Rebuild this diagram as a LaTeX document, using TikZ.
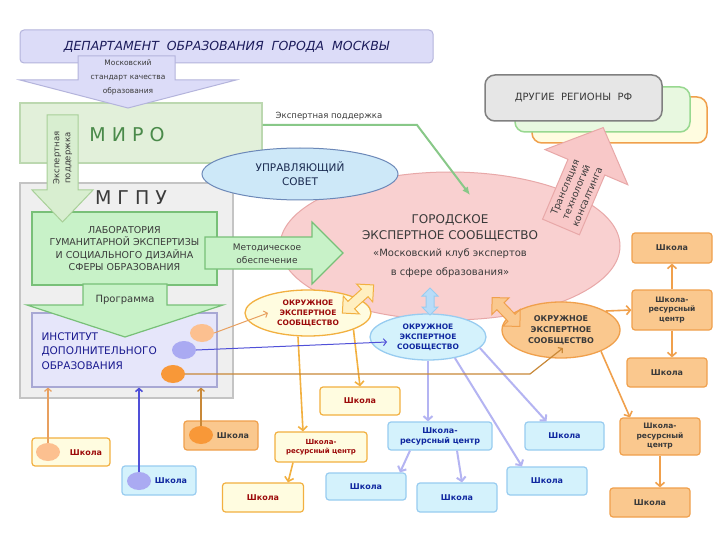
\documentclass[tikz,border=0pt]{standalone}
\usepackage{fontspec}
\setmainfont{DejaVu Sans}
\usetikzlibrary{positioning,shapes.geometric,arrows.meta}

\definecolor{banfill}{HTML}{DCDCF8}
\definecolor{bandraw}{HTML}{B4B4DC}
\definecolor{navytxt}{HTML}{1C1C5C}
\definecolor{mirofill}{HTML}{E2F0DA}
\definecolor{mirodraw}{HTML}{BCD8B0}
\definecolor{mirotxt}{HTML}{4A8A4A}
\definecolor{vertfill}{HTML}{D8EED0}
\definecolor{vertdraw}{HTML}{A8D098}
\definecolor{mgpufill}{HTML}{EFEFEF}
\definecolor{mgpudraw}{HTML}{C4C4C4}
\definecolor{labfill}{HTML}{C8F2C8}
\definecolor{labdraw}{HTML}{78C078}
\definecolor{instfill}{HTML}{E6E6FA}
\definecolor{instdraw}{HTML}{A8A8D4}
\definecolor{insttxt}{HTML}{1A1A90}
\definecolor{pinkfill}{HTML}{F9D0D0}
\definecolor{pinkdraw}{HTML}{E8A8A8}
\definecolor{transfill}{HTML}{F8C8C8}
\definecolor{sovfill}{HTML}{CDE8F8}
\definecolor{sovdraw}{HTML}{6C88B8}
\definecolor{sovtxt}{HTML}{1A2A50}
\definecolor{yelfill}{HTML}{FFFCE0}
\definecolor{yeldraw}{HTML}{F2B040}
\definecolor{yelarr}{HTML}{FFEFC0}
\definecolor{blufill}{HTML}{D4F2FC}
\definecolor{bludraw}{HTML}{98CCF0}
\definecolor{bluarr}{HTML}{B8DCF8}
\definecolor{orafill}{HTML}{FAC88E}
\definecolor{oradraw}{HTML}{F0A04C}
\definecolor{grnfill}{HTML}{E8F8E0}
\definecolor{grndraw}{HTML}{98D890}
\definecolor{gryfill}{HTML}{E6E6E6}
\definecolor{grydraw}{HTML}{808080}
\definecolor{redtxt}{HTML}{9C0A0A}
\definecolor{blutxt}{HTML}{1028A0}
\definecolor{graytxt}{HTML}{3A3A3A}
\definecolor{lavline}{HTML}{B4B4F2}
\definecolor{peach}{HTML}{FCC090}
\definecolor{lavdot}{HTML}{AAAAF2}
\definecolor{oradot}{HTML}{F89838}
\definecolor{greenline}{HTML}{88C888}
\definecolor{peachline}{HTML}{E8A060}
\definecolor{blueline}{HTML}{5050D8}
\definecolor{brownline}{HTML}{C88838}

\begin{document}
\begin{tikzpicture}[x=1pt, y=-1pt,
  plate/.style={draw, inner sep=0pt},
  okrug/.style={ellipse, draw, line width=1.3pt, align=center, inner sep=0pt,
    font=\fontsize{7.5}{10}\selectfont\bfseries},
  shk/.style={draw, rounded corners=3pt, line width=1.2pt, align=center, inner sep=0pt,
    font=\fontsize{8}{10}\selectfont\bfseries},
  yshk/.style={shk, fill=yelfill, draw=yeldraw, text=redtxt},
  bshk/.style={shk, fill=blufill, draw=bludraw, text=blutxt},
  oshk/.style={shk, fill=orafill, draw=oradraw, text=graytxt},
  blob/.style={ellipse, inner sep=0pt, minimum width=24pt, minimum height=18pt},
  ytree/.style={draw=yeldraw, line width=1.6pt, -{Straight Barb[length=4pt,width=9pt]}},
  btree/.style={draw=lavline, line width=2pt, -{Straight Barb[length=4pt,width=9pt]}},
  otree/.style={draw=oradraw, line width=1.6pt, -{Straight Barb[length=4pt,width=9pt]}},
  feed/.style={line width=1pt, -{Straight Barb[length=3pt,width=7pt]}},
  lbl/.style={align=center, text=graytxt}
]
\fill[white] (0,0) rectangle (720,540);
\useasboundingbox (0,0) rectangle (720,540);

% department and the standard
\node[plate, fill=banfill, draw=bandraw, rounded corners=4pt, line width=1pt, minimum width=413pt, minimum height=33pt, text=navytxt, font=\fontsize{12.5}{14}\selectfont\itshape] (dep) at (226.5,46.5) {ДЕПАРТАМЕНТ~~ОБРАЗОВАНИЯ~~ГОРОДА~~МОСКВЫ};

\node[plate, fill=mirofill, draw=mirodraw, line width=1.2pt, minimum width=242pt, minimum height=60pt] (miro) at (141,133) {};
\node[text=mirotxt, font=\fontsize{19}{20}\selectfont] (mirot) at (127,135) {М И Р О};

\node[plate, fill=mgpufill, draw=mgpudraw, line width=1.2pt, minimum width=213pt, minimum height=215pt] (mgpu) at (126.5,290.5) {};
\node[text=graytxt, font=\fontsize{19}{20}\selectfont] (mgput) at (131,198) {М Г П У};

\filldraw[fill=banfill, draw=bandraw, line width=1pt] (78,56) -- (175,56) -- (175,80) -- (236,80) -- (128,108) -- (20,80) -- (78,80) -- cycle;
\node[lbl, font=\fontsize{7.5}{14}\selectfont] (std) at (128,77) {Московский\\стандарт качества\\образования};

% MGPU inside
\node[plate, fill=labfill, draw=labdraw, line width=1.2pt, minimum width=185pt, minimum height=73pt, align=center, text=graytxt, font=\fontsize{9.5}{12.5}\selectfont] (lab) at (124.5,248.5) {ЛАБОРАТОРИЯ\\ГУМАНИТАРНОЙ ЭКСПЕРТИЗЫ\\И СОЦИАЛЬНОГО ДИЗАЙНА\\СФЕРЫ ОБРАЗОВАНИЯ};

\filldraw[fill=vertfill, draw=vertdraw, line width=1pt] (47,115) -- (78,115) -- (78,190) -- (93,190) -- (62.5,222) -- (32,190) -- (47,190) -- cycle;
\node[lbl, rotate=90, font=\fontsize{8.5}{11}\selectfont] (ekspv) at (62.5,158) {Экспертная\\поддержка};

\node[plate, fill=instfill, draw=instdraw, line width=1.2pt, minimum width=185pt, minimum height=74pt] (inst) at (124.5,350) {};
\node[anchor=west, align=left, text=insttxt, font=\fontsize{10.5}{14.5}\selectfont] (instt) at (38,351) {ИНСТИТУТ\\ДОПОЛНИТЕЛЬНОГО\\ОБРАЗОВАНИЯ};

\filldraw[fill=labfill, draw=labdraw, line width=1.2pt] (83,284) -- (167,284) -- (167,305) -- (223,305) -- (125,337) -- (27,305) -- (83,305) -- cycle;
\node[lbl, font=\fontsize{10}{12}\selectfont] (prog) at (125,300) {Программа};

\node[blob, fill=peach] (iA) at (202,333) {};
\node[blob, fill=lavdot] (iB) at (184,350) {};
\node[blob, fill=oradot] (iC) at (173,374) {};

% schools under the institute
\node[yshk, minimum width=78pt, minimum height=28pt] (lsA) at (71,452) {};
\node[blob, fill=peach] (dA) at (48,452) {};
\node[text=redtxt, font=\fontsize{8}{10}\selectfont\bfseries] (lsAt) at (86,453) {Школа};
\node[bshk, minimum width=74pt, minimum height=29pt] (lsB) at (159,480.5) {};
\node[blob, fill=lavdot] (dB) at (139,481) {};
\node[text=blutxt, font=\fontsize{8}{10}\selectfont\bfseries] (lsBt) at (171,481) {Школа};
\node[oshk, minimum width=74pt, minimum height=29pt] (lsC) at (221,435.5) {};
\node[blob, fill=oradot] (dC) at (201,435) {};
\node[text=graytxt, font=\fontsize{8}{10}\selectfont\bfseries] (lsCt) at (233,436) {Школа};

\draw[feed, draw=peachline, line width=1.2pt] (dA.north) -- (dA.north |- inst.south);
\draw[feed, draw=blueline, line width=1.6pt] (dB.north) -- (dB.north |- inst.south);
\draw[feed, draw=brownline, line width=1.2pt] (dC.north) -- (dC.north |- inst.south);

% other regions
\node[plate, fill=yelfill, draw=oradraw, rounded corners=10pt, line width=1.5pt, minimum width=175pt, minimum height=46pt] (rgB) at (619.5,120) {};
\node[plate, fill=grnfill, draw=grndraw, rounded corners=10pt, line width=1.5pt, minimum width=175pt, minimum height=45pt] (rgM) at (602.5,109.5) {};
\node[plate, fill=gryfill, draw=grydraw, rounded corners=10pt, line width=1.5pt, minimum width=177pt, minimum height=46pt, text=graytxt, font=\fontsize{10}{12}\selectfont] (rgF) at (573.5,98) {ДРУГИЕ~~РЕГИОНЫ~~РФ};

% city community
\node[ellipse, draw=pinkdraw, fill=pinkfill, line width=1pt, minimum width=340pt, minimum height=148pt, inner sep=0pt, align=center, text=graytxt, font=\fontsize{10}{16.5}\selectfont] (gor) at (450,246) {{\fontsize{12}{16.5}\selectfont ГОРОДСКОЕ}\\{\fontsize{12}{16.5}\selectfont ЭКСПЕРТНОЕ СООБЩЕСТВО}\\«Московский клуб экспертов\\[3pt]в сфере образования»};

\node[ellipse, draw=sovdraw, fill=sovfill, line width=1pt, minimum width=196pt, minimum height=52pt, inner sep=0pt, align=center, text=sovtxt, font=\fontsize{10.5}{14}\selectfont] (sovet) at (300,174) {УПРАВЛЯЮЩИЙ\\СОВЕТ};

\filldraw[fill=labfill, draw=labdraw, line width=1.2pt] (205,237) -- (312,237) -- (312,222) -- (343,253) -- (312,284) -- (312,269) -- (205,269) -- cycle;
\node[lbl, font=\fontsize{9}{12.5}\selectfont] (metod) at (267,254) {Методическое\\обеспечение};

\coordinate (gbend) at (417,125);
\draw[draw=greenline, line width=2pt, -{Latex[length=8pt,width=7pt]}] ([yshift=8pt]miro.east) -- (gbend) -- ([xshift=20pt,yshift=51pt]gor.center);
\node[text=graytxt, font=\fontsize{8.5}{10}\selectfont] (eksph) at (329,116) {Экспертная поддержка};

\begin{scope}[shift={(561,227)}, rotate=67]
  \filldraw[fill=transfill, draw=pinkdraw, line width=1pt] (0,-20) -- (65,-20) -- (65,-45) -- (108,0) -- (65,45) -- (65,20) -- (0,20) -- cycle;
\end{scope}
\node[lbl, rotate=67, font=\fontsize{9.5}{12}\selectfont] (trans) at (576,192) {Трансляция\\технологий\\консалтинга};

% district communities
\node[okrug, fill=yelfill, draw=yeldraw, text=redtxt, minimum width=126pt, minimum height=46pt] (lelli) at (308,313) {ОКРУЖНОЕ\\ЭКСПЕРТНОЕ\\СООБЩЕСТВО};
\node[okrug, fill=blufill, draw=bludraw, text=blutxt, minimum width=116pt, minimum height=46pt] (belli) at (428,337) {ОКРУЖНОЕ\\ЭКСПЕРТНОЕ\\СООБЩЕСТВО};
\node[okrug, fill=orafill, draw=oradraw, text=graytxt, minimum width=118pt, minimum height=56pt, font=\fontsize{8}{11}\selectfont\bfseries] (oelli) at (561,330) {ОКРУЖНОЕ\\ЭКСПЕРТНОЕ\\СООБЩЕСТВО};

\begin{scope}[shift={(358,299)}, rotate=42]
  \filldraw[fill=yelarr, draw=yeldraw, line width=1pt] (-21,0) -- (-9,-12) -- (-9,-5) -- (9,-5) -- (9,-12) -- (21,0) -- (9,12) -- (9,5) -- (-9,5) -- (-9,12) -- cycle;
\end{scope}
\begin{scope}[shift={(430,301.5)}, rotate=90]
  \filldraw[fill=bluarr, draw=bludraw, line width=1pt] (-13.5,0) -- (-5.5,-8) -- (-5.5,-4) -- (5.5,-4) -- (5.5,-8) -- (13.5,0) -- (5.5,8) -- (5.5,4) -- (-5.5,4) -- (-5.5,8) -- cycle;
\end{scope}
\begin{scope}[shift={(506,312)}, rotate=-46]
  \filldraw[fill=orafill, draw=oradraw, line width=1pt] (-20,0) -- (-8,-12) -- (-8,-5) -- (8,-5) -- (8,-12) -- (20,0) -- (8,12) -- (8,5) -- (-8,5) -- (-8,12) -- cycle;
\end{scope}

% schools of the districts
\node[yshk, minimum width=80pt, minimum height=28pt] (ys1) at (360,401) {Школа};
\node[yshk, minimum width=92pt, minimum height=30pt, font=\fontsize{7}{9}\selectfont\bfseries] (yc) at (321,447) {Школа-\\ресурсный центр};
\node[yshk, minimum width=81pt, minimum height=29pt] (ys2) at (263,497.5) {Школа};

\node[bshk, minimum width=104pt, minimum height=28pt] (bc) at (440,436) {Школа-\\ресурсный центр};
\node[bshk, minimum width=80pt, minimum height=27pt] (bs1) at (366,486.5) {Школа};
\node[bshk, minimum width=80pt, minimum height=29pt] (bs2) at (457,497.5) {Школа};
\node[bshk, minimum width=80pt, minimum height=28pt] (bs3) at (547,481) {Школа};
\node[bshk, minimum width=79pt, minimum height=28pt] (bs4) at (564.5,436) {Школа};

\node[oshk, minimum width=80pt, minimum height=30pt] (rs1) at (672,248) {Школа};
\node[oshk, minimum width=80pt, minimum height=40pt, font=\fontsize{7.5}{9.5}\selectfont\bfseries] (rc1) at (672,310) {Школа-\\ресурсный\\центр};
\node[oshk, minimum width=80pt, minimum height=29pt] (rs2) at (667,372.5) {Школа};
\node[oshk, minimum width=80pt, minimum height=37pt, font=\fontsize{7.5}{9.5}\selectfont\bfseries] (rc2) at (660,436.5) {Школа-\\ресурсный\\центр};
\node[oshk, minimum width=80pt, minimum height=29pt] (rs3) at (650,502.5) {Школа};

\draw[ytree] (lelli.-20) -- (ys1.north);
\draw[ytree] ([xshift=-10pt]lelli.south) -- ([xshift=-18pt]yc.north);
\draw[ytree] ([xshift=-28pt]yc.south) -- ([xshift=25pt]ys2.north);

\draw[btree] (belli.south) -- (belli.south |- bc.north);
\draw[btree] ([xshift=-30pt]bc.south) -- ([xshift=34pt]bs1.north);
\draw[btree] ([xshift=17pt]bc.south) -- ([xshift=5pt]bs2.north);
\draw[btree] (belli.-38) -- ([xshift=-25pt]bs3.north);
\draw[btree] (belli.-12) -- ([xshift=-18pt]bs4.north);

\draw[otree] (oelli.23) -- (rc1.west);
\draw[otree] (rc1.north) -- (rs1.south);
\draw[otree] (rc1.south) -- (rc1.south |- rs2.north);
\draw[otree] (oelli.-28) -- ([xshift=-30pt]rc2.north);
\draw[otree] (rc2.south) -- (rc2.south |- rs3.north);

% links from the institute
\coordinate (cbend) at (530,376);
\draw[feed, draw=peachline] (iA.east) -- ([xshift=-40pt]lelli.center);
\draw[feed, draw=blueline] (iB.east) -- ([xshift=-41pt,yshift=-5pt]belli.center);
\draw[feed, draw=brownline, line width=1.2pt] (iC.east) -- (iC.east -| cbend) -- ([xshift=2pt,yshift=-18pt]oelli.center);

\end{tikzpicture}
\end{document}
